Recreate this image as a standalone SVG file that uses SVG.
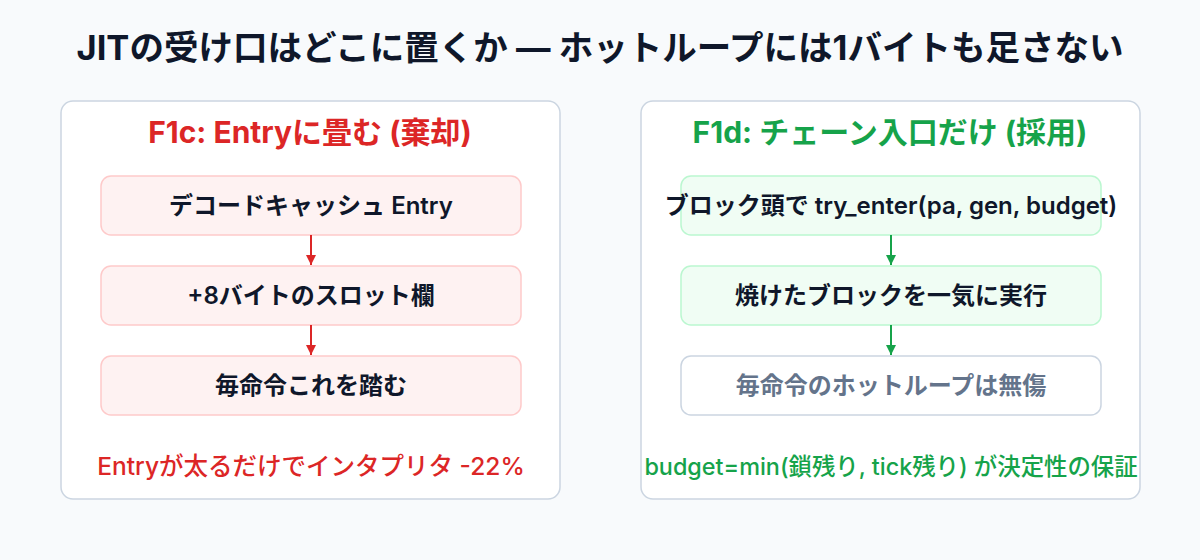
<svg xmlns="http://www.w3.org/2000/svg" width="1200" height="560" viewBox="0 0 1200 560">
<defs>
<style>
text{font-family:Inter,"Noto Sans CJK JP","Noto Sans",sans-serif;text-anchor:middle;dominant-baseline:central}
.title{font-size:34.5px;font-weight:700;fill:#0f172a}
.panel{fill:#ffffff;stroke:#cbd5e1;stroke-width:1.5}
.ptitle{font-size:30px;font-weight:700}
.red{fill:#dc2626}
.green{fill:#16a34a}
.rnode{fill:#fef2f2;stroke:#fecaca;stroke-width:1.5}
.gnode{fill:#f0fdf4;stroke:#bbf7d0;stroke-width:1.5}
.wnode{fill:#ffffff;stroke:#cbd5e1;stroke-width:1.5}
.ntext{font-size:24px;font-weight:600;fill:#0f172a}
.mtext{font-size:24px;font-weight:600;fill:#64748b}
.foot{font-size:24.5px;font-weight:500}
.foot2{font-size:23.4px;font-weight:500}
.cr{stroke:#dc2626;stroke-width:2;fill:none}
.cg{stroke:#16a34a;stroke-width:2;fill:none}
</style>
<marker id="ar" viewBox="0 0 10 10" refX="10" refY="5" markerWidth="10" markerHeight="10" orient="auto" markerUnits="userSpaceOnUse"><path d="M0,0 L10,5 L0,10 z" fill="#dc2626"/></marker>
<marker id="ag" viewBox="0 0 10 10" refX="10" refY="5" markerWidth="10" markerHeight="10" orient="auto" markerUnits="userSpaceOnUse"><path d="M0,0 L10,5 L0,10 z" fill="#16a34a"/></marker>
</defs>
<rect width="1200" height="560" fill="#f8fafc"/>
<text id="title" class="title" x="600" y="47">JITの受け口はどこに置くか — ホットループには1バイトも足さない</text>

<g id="panel-f1c">
<rect class="panel" x="61" y="101" width="499" height="398" rx="12"/>
<text class="ptitle red" x="310" y="132">F1c: Entryに畳む (棄却)</text>
</g>
<g id="f1c-entry">
<rect class="rnode" x="101" y="176" width="420" height="59" rx="10"/>
<text class="ntext" x="311" y="205">デコードキャッシュ Entry</text>
</g>
<g id="f1c-slot">
<rect class="rnode" x="101" y="266" width="420" height="59" rx="10"/>
<text class="ntext" x="311" y="295">+8バイトのスロット欄</text>
</g>
<g id="f1c-step">
<rect class="rnode" x="101" y="356" width="420" height="59" rx="10"/>
<text class="ntext" x="311" y="385">毎命令これを踏む</text>
</g>
<g id="f1c-note">
<text class="foot red" x="311" y="466">Entryが太るだけでインタプリタ -22%</text>
</g>

<g id="panel-f1d">
<rect class="panel" x="641" y="101" width="499" height="398" rx="12"/>
<text class="ptitle green" x="890" y="132">F1d: チェーン入口だけ (採用)</text>
</g>
<g id="f1d-enter">
<rect class="gnode" x="681" y="176" width="420" height="59" rx="10"/>
<text class="ntext" x="891" y="205">ブロック頭で try_enter(pa, gen, budget)</text>
</g>
<g id="f1d-run">
<rect class="gnode" x="681" y="266" width="420" height="59" rx="10"/>
<text class="ntext" x="891" y="295">焼けたブロックを一気に実行</text>
</g>
<g id="f1d-loop">
<rect class="wnode" x="681" y="356" width="420" height="59" rx="10"/>
<text class="mtext" x="891" y="385">毎命令のホットループは無傷</text>
</g>
<g id="f1d-note">
<text class="foot2 green" x="891" y="466">budget=min(鎖残り, tick残り) が決定性の保証</text>
</g>

<g id="connectors">
<line class="cr" x1="311" y1="235" x2="311" y2="265" marker-end="url(#ar)"/>
<line class="cr" x1="311" y1="325" x2="311" y2="355" marker-end="url(#ar)"/>
<line class="cg" x1="891" y1="235" x2="891" y2="265" marker-end="url(#ag)"/>
<line class="cg" x1="891" y1="325" x2="891" y2="355" marker-end="url(#ag)"/>
</g>
</svg>
